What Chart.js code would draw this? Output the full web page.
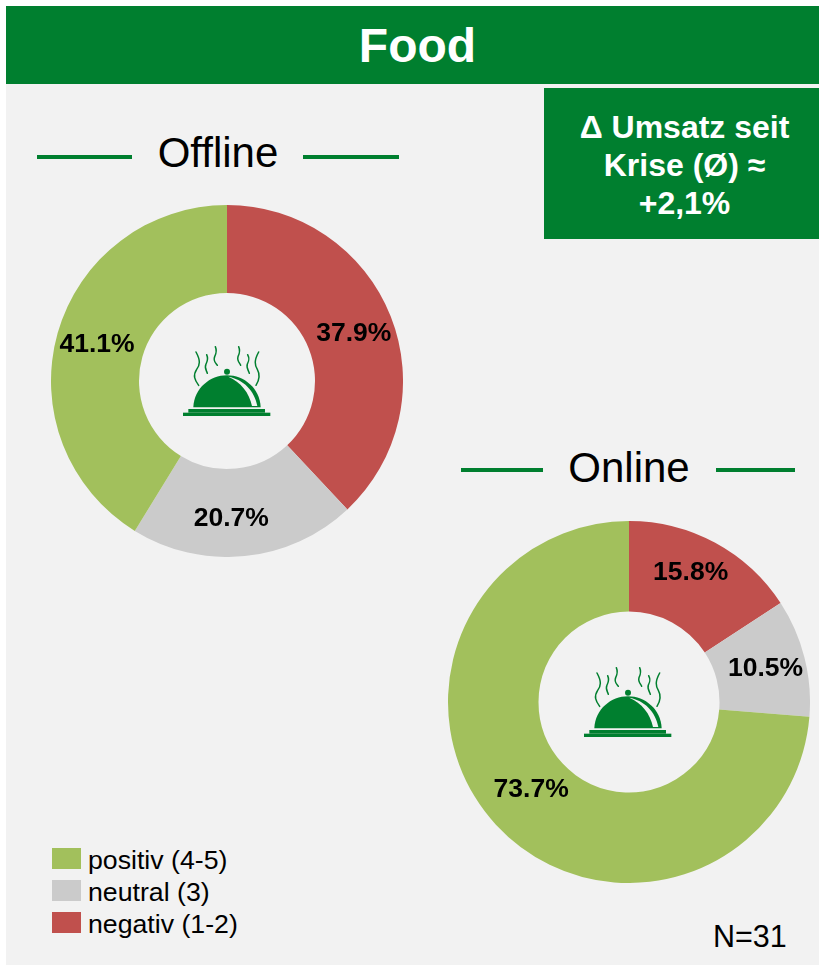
<!DOCTYPE html>
<html lang="de">
<head>
<meta charset="utf-8">
<title>Food</title>
<script src="https://cdn.jsdelivr.net/npm/chart.js@4/dist/chart.umd.min.js"></script>
<style>
html,body{margin:0;padding:0;background:#fff;overflow:hidden}
body{width:819px;height:966px;position:relative;font-family:"Liberation Sans",Arial,sans-serif;color:#000}
.abs{position:absolute}
#panel{left:6px;top:84px;width:813px;height:881px;background:#f2f2f2}
#head{left:6px;top:6px;width:813px;height:78px;background:#007f2f;color:#fff;font-weight:bold;font-size:48px;line-height:80px;text-align:center;box-sizing:border-box;padding-left:10px}
#box{left:544px;top:88px;width:275px;height:151px;background:#007f2f;color:#fff;font-weight:bold;font-size:32px;line-height:38px;text-align:center;padding-top:20px;padding-left:6px;box-sizing:border-box}
.sub{font-size:42px;line-height:46px;white-space:nowrap;transform:translateX(-50%)}
.rule{height:4px;background:#007f2f}
.sw{left:52px;width:29px;height:21px}
.lg{left:88px;font-size:26.7px;line-height:30px;white-space:nowrap}
canvas{position:absolute;display:block}
svg{position:absolute;pointer-events:none}
</style>
</head>
<body>
<div class="abs" id="panel"></div>
<div class="abs" id="head">Food</div>
<div class="abs" id="box">Δ Umsatz seit<br>Krise (Ø) ≈<br>+2,1%</div>

<div class="abs sub" style="left:218px;top:130px">Offline</div>
<div class="abs rule" style="left:37px;top:155px;width:95px"></div>
<div class="abs rule" style="left:303px;top:155px;width:96px"></div>

<div class="abs sub" style="left:629px;top:445px">Online</div>
<div class="abs rule" style="left:461px;top:468px;width:82px"></div>
<div class="abs rule" style="left:716px;top:468px;width:79px"></div>

<canvas id="offline" width="352" height="352" style="left:51px;top:205px"></canvas>
<canvas id="online" width="362" height="362" style="left:448px;top:521px"></canvas>

<svg width="0" height="0" style="position:absolute">
  <defs>
    <g id="cloche">
      <rect x="99" y="278" width="262" height="10" fill="#007f2f"/>
      <rect x="115" y="267" width="230" height="11" fill="#007f2f"/>
      <path d="M130 262 C132 205 180 166 231 166 C282 166 330 205 332 262 Z" fill="#007f2f"/>
      <circle cx="231" cy="155" r="9" fill="#007f2f"/>
      <path d="M235 170 C280 178 314 212 322 258 L306 258 C298 218 272 186 235 170 Z" fill="#f2f2f2"/>
      <g fill="none" stroke="#007f2f" stroke-width="4.5" stroke-linecap="round">
        <path d="M138 96 C152 122 150 134 140 148 C128 166 134 180 146 196"/>
        <path d="M170 104 C176 118 172 124 168 132 C162 144 170 152 172 160"/>
        <path d="M196 80 C202 94 198 102 194 110 C188 124 198 130 202 136"/>
        <path d="M266 80 C272 94 268 102 264 110 C260 122 270 130 272 136"/>
        <path d="M293 104 C300 118 296 124 292 132 C288 144 296 152 298 160"/>
        <path d="M326 96 C312 122 314 134 322 148 C332 166 328 180 318 196"/>
      </g>
    </g>
  </defs>
</svg>
<svg width="150" height="120" viewBox="0 0 450 360" style="left:150px;top:320px"><use href="#cloche"/></svg>
<svg width="150" height="120" viewBox="0 0 450 360" style="left:551px;top:641px"><use href="#cloche"/></svg>

<div class="abs sw" style="top:848px;background:#a2c05c"></div>
<div class="abs lg" style="top:845px">positiv (4-5)</div>
<div class="abs sw" style="top:880px;background:#cbcbcb"></div>
<div class="abs lg" style="top:877px">neutral (3)</div>
<div class="abs sw" style="top:912px;background:#c0504d"></div>
<div class="abs lg" style="top:909px">negativ (1-2)</div>
<div class="abs" style="left:713px;top:918px;font-size:30.5px;line-height:36px">N=31</div>

<script>
const categories = ["negativ (1-2)", "neutral (3)", "positiv (4-5)"];
const offlineValues = [37.9, 20.7, 41.1];
const onlineValues = [15.8, 10.5, 73.7];
const sliceColors = ["#c0504d", "#cbcbcb", "#a2c05c"];

// Label nudges away from each slice's mid-point, in pixels.
const offlineNudge = [[4, 1], [-9, 6], [-3, 0]];
const onlineNudge = [[-3, -10], [5, 0], [2, -4]];

function labelPlugin(nudge) {
  return {
    id: "sliceLabels",
    afterDatasetsDraw(chart) {
      const ctx = chart.ctx;
      const values = chart.data.datasets[0].data;
      ctx.save();
      ctx.font = "bold 26.5px 'Liberation Sans', Arial, sans-serif";
      ctx.fillStyle = "#000";
      ctx.textAlign = "center";
      ctx.textBaseline = "middle";
      chart.getDatasetMeta(0).data.forEach((arc, i) => {
        const p = arc.getCenterPoint();
        ctx.fillText(values[i].toFixed(1) + "%", p.x + nudge[i][0], p.y + nudge[i][1]);
      });
      ctx.restore();
    }
  };
}

function drawDoughnut(id, values, nudge) {
  new Chart(document.getElementById(id), {
    type: "doughnut",
    data: {
      labels: categories,
      datasets: [{ data: values, backgroundColor: sliceColors, borderWidth: 0 }]
    },
    options: {
      responsive: false,
      animation: false,
      cutout: "50%",
      layout: { padding: 0 },
      plugins: { legend: { display: false }, tooltip: { enabled: false } }
    },
    plugins: [labelPlugin(nudge)]
  });
}

drawDoughnut("offline", offlineValues, offlineNudge);
drawDoughnut("online", onlineValues, onlineNudge);
</script>
</body>
</html>
